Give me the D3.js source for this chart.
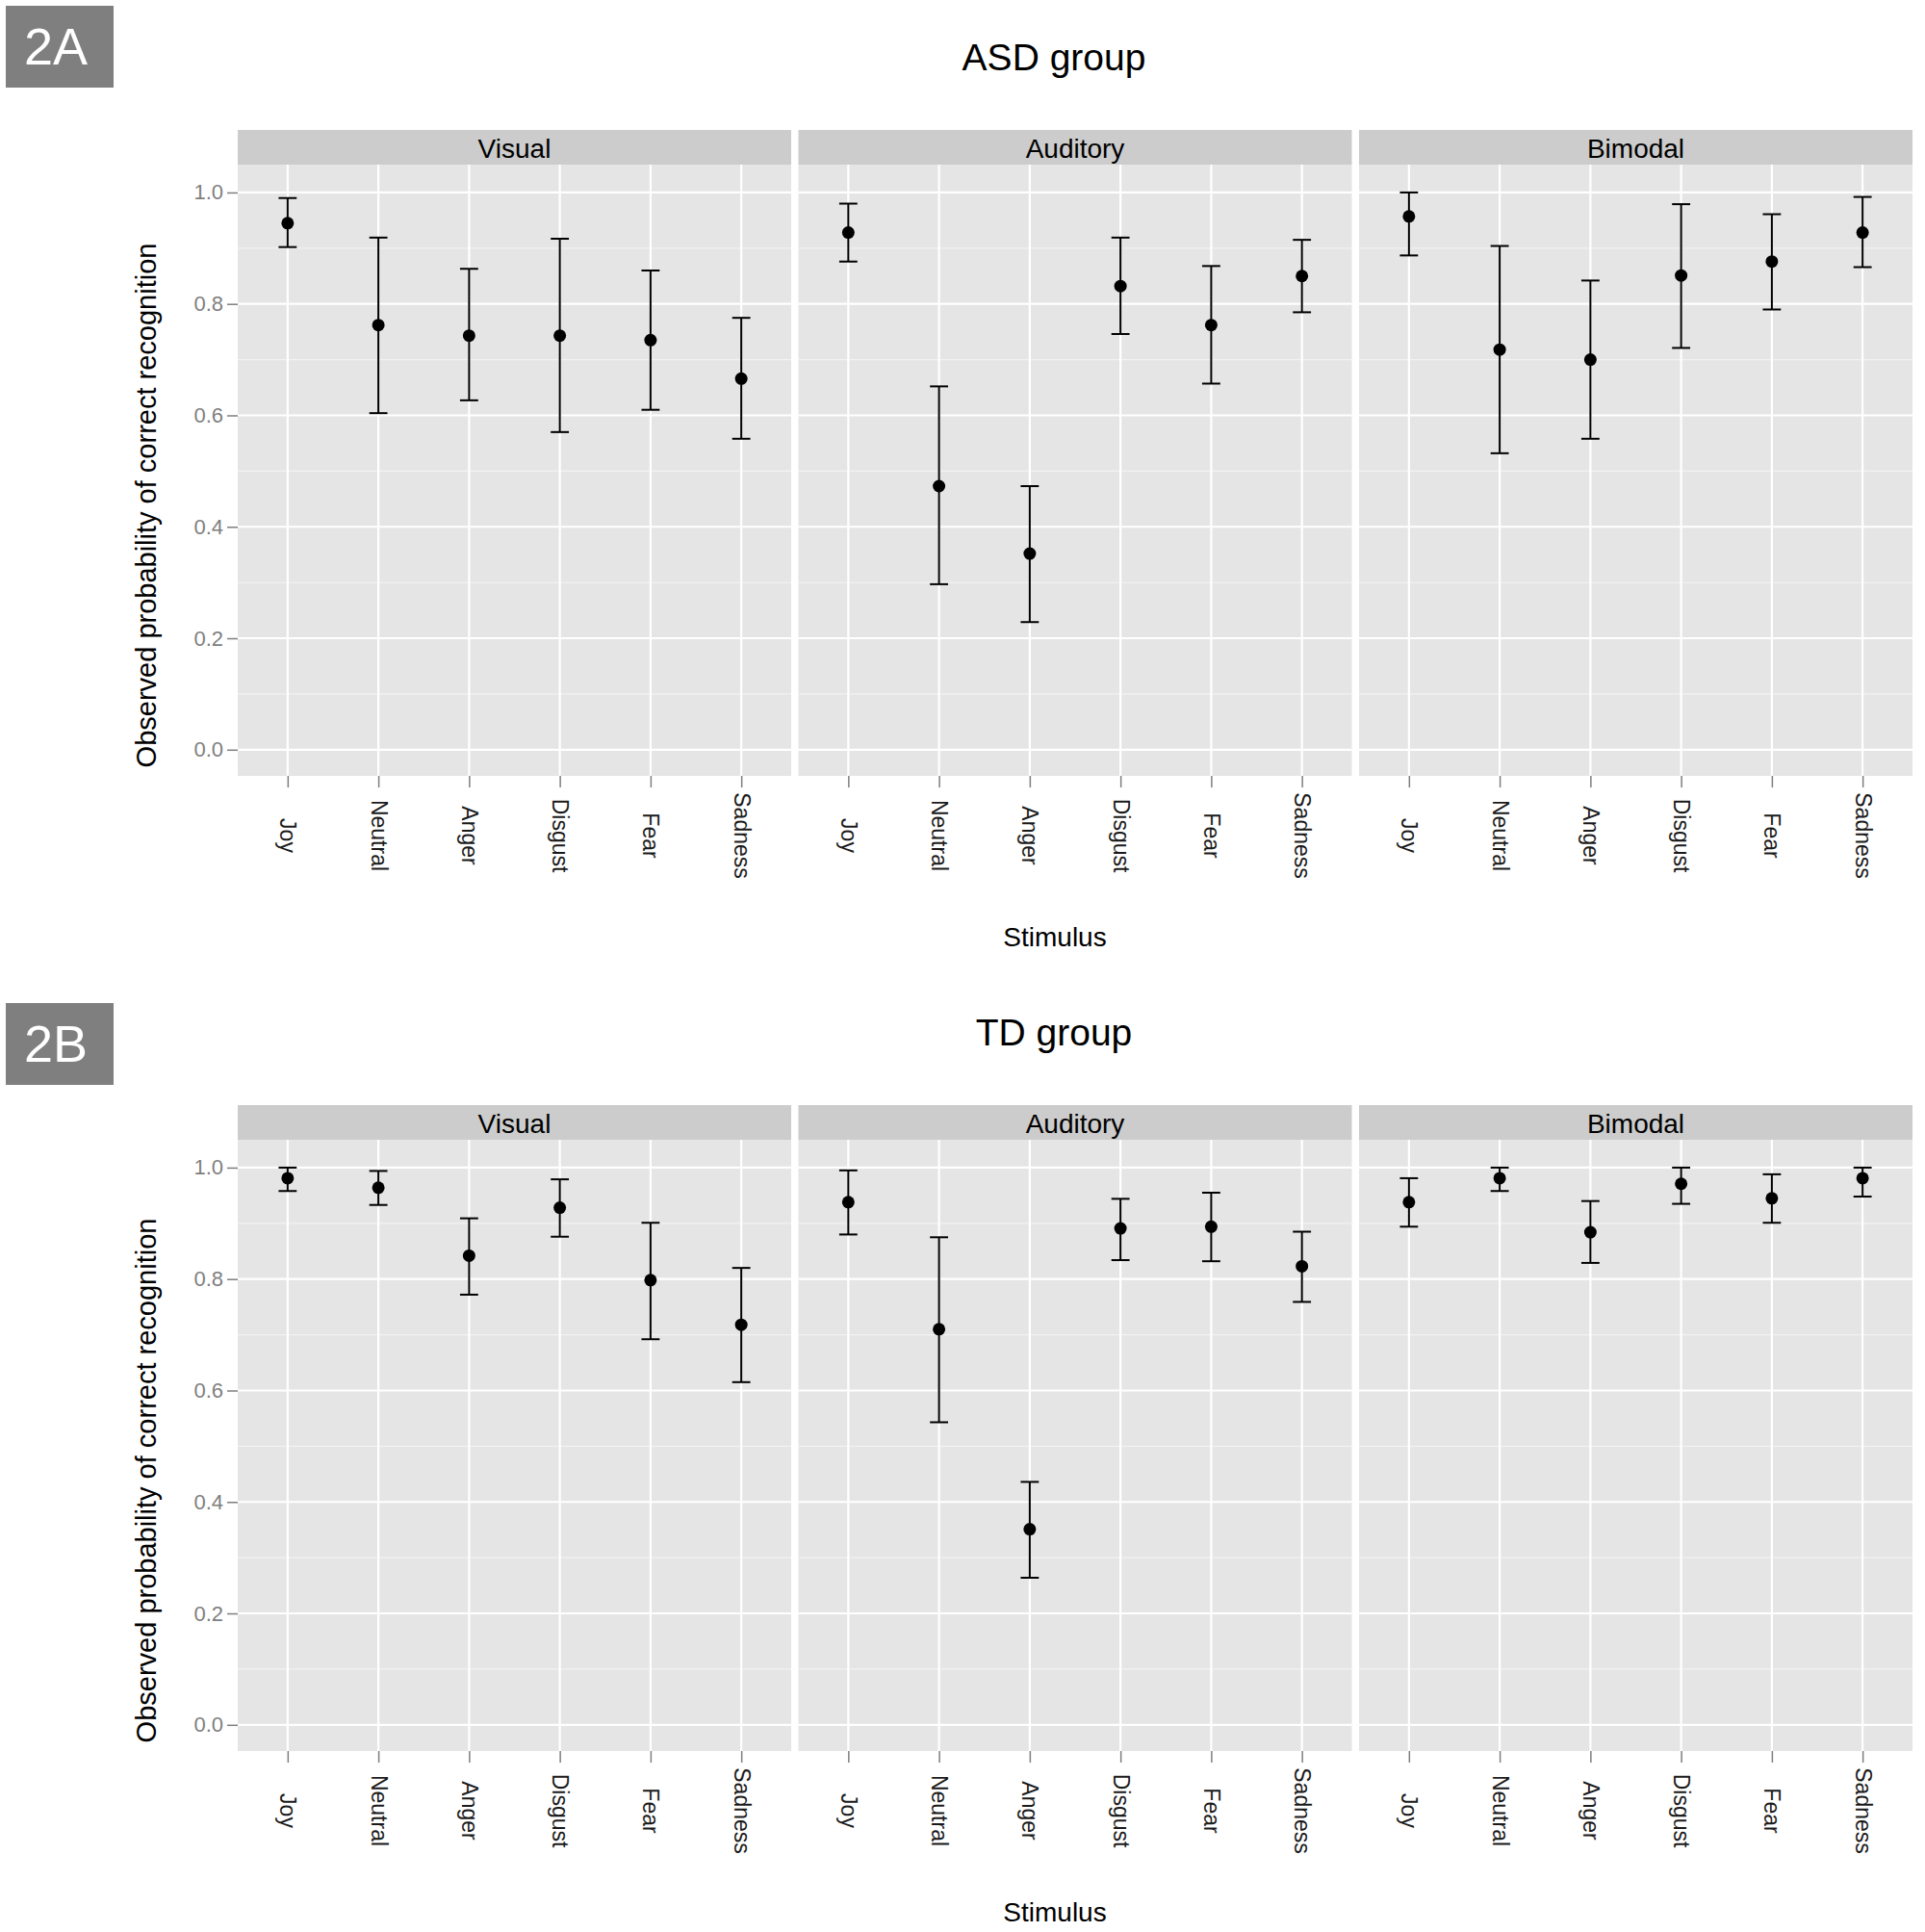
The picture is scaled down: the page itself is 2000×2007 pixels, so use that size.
<!DOCTYPE html>
<html>
<head>
  <meta charset="utf-8">
  <script src="https://d3js.org/d3.v7.min.js"></script>
  <style>
    body { margin: 0; background: #fff; }
    text { font-family: "Liberation Sans", Arial, sans-serif; }
  </style>
</head>
<body>
  <script type="text/javascript">
    var w = 2000;
    var h = 2007;

    var categories = ["Joy", "Neutral", "Anger", "Disgust", "Fear", "Sadness"];
    var modalities = ["Visual", "Auditory", "Bimodal"];
    var yTicks = [0.0, 0.2, 0.4, 0.6, 0.8, 1.0];
    var yMinor = [0.1, 0.3, 0.5, 0.7, 0.9];

    // ASD group: rows = Visual, Auditory, Bimodal
    var asdMean = [
      [0.945, 0.762, 0.743, 0.743, 0.735, 0.666],
      [0.928, 0.473, 0.352, 0.832, 0.762, 0.850],
      [0.957, 0.718, 0.700, 0.851, 0.876, 0.928]
    ];
    var asdLower = [
      [0.902, 0.604, 0.627, 0.570, 0.610, 0.558],
      [0.876, 0.297, 0.229, 0.746, 0.657, 0.785],
      [0.887, 0.532, 0.558, 0.721, 0.790, 0.866]
    ];
    var asdUpper = [
      [0.990, 0.919, 0.863, 0.917, 0.860, 0.775],
      [0.980, 0.652, 0.473, 0.919, 0.868, 0.915],
      [1.000, 0.904, 0.842, 0.979, 0.961, 0.992]
    ];

    // TD group
    var tdMean = [
      [0.981, 0.964, 0.842, 0.928, 0.798, 0.718],
      [0.938, 0.710, 0.351, 0.891, 0.894, 0.823],
      [0.938, 0.981, 0.884, 0.971, 0.945, 0.981]
    ];
    var tdLower = [
      [0.958, 0.933, 0.772, 0.876, 0.692, 0.615],
      [0.880, 0.543, 0.264, 0.834, 0.832, 0.759],
      [0.894, 0.958, 0.829, 0.935, 0.901, 0.948]
    ];
    var tdUpper = [
      [1.000, 0.994, 0.909, 0.979, 0.901, 0.820],
      [0.995, 0.875, 0.436, 0.944, 0.955, 0.885],
      [0.981, 1.000, 0.940, 1.000, 0.988, 1.000]
    ];

    var svg = d3.select("body")
      .append("svg")
      .attr("width", w)
      .attr("height", h);

    svg.append("rect").attr("width", w).attr("height", h).attr("fill", "#fff");

    var panelLeft = 247;
    var panelW = 575;
    var panelGap = 7.5;
    var stripTop = 135;
    var panelTop = 171;
    var panelBottom = 806;

    var yScale = d3.scaleLinear()
                   .domain([-0.047, 1.05])
                   .range([panelBottom, panelTop]);

    function drawGroup(offset, boxY, label, title, means, lows, highs) {
      var g = svg.append("g").attr("transform", "translate(0," + offset + ")");

      // panel tag
      g.append("rect")
        .attr("x", 6).attr("y", boxY)
        .attr("width", 112).attr("height", 85)
        .attr("fill", "#7f7f7f");
      g.append("text")
        .attr("x", 58).attr("y", boxY + 61)
        .attr("text-anchor", "middle")
        .attr("fill", "#fff")
        .style("font-family", "'Liberation Sans Narrow', 'Liberation Sans', sans-serif")
        .style("font-size", "54px")
        .text(label);

      g.append("text")
        .attr("x", 1095).attr("y", 73)
        .attr("text-anchor", "middle")
        .style("font-size", "39px")
        .text(title);

      modalities.forEach(function(m, mi) {
        var x0 = panelLeft + mi * (panelW + panelGap);
        var xScale = d3.scalePoint()
                       .domain(categories)
                       .range([x0, x0 + panelW])
                       .padding(0.55);
        var p = g.append("g");

        p.append("rect")
          .attr("x", x0).attr("y", stripTop)
          .attr("width", panelW).attr("height", panelTop - stripTop)
          .attr("fill", "#cccccc");
        p.append("text")
          .attr("x", x0 + panelW / 2).attr("y", 164)
          .attr("text-anchor", "middle")
          .style("font-size", "28px")
          .text(m);

        p.append("rect")
          .attr("x", x0).attr("y", panelTop)
          .attr("width", panelW).attr("height", panelBottom - panelTop)
          .attr("fill", "#e5e5e5");

        p.selectAll(".minor")
          .data(yMinor)
          .enter()
          .append("line")
          .attr("x1", x0).attr("x2", x0 + panelW)
          .attr("y1", function(d){ return yScale(d); })
          .attr("y2", function(d){ return yScale(d); })
          .attr("stroke", "#f2f2f2")
          .attr("stroke-width", 1.2);

        p.selectAll(".major")
          .data(yTicks)
          .enter()
          .append("line")
          .attr("x1", x0).attr("x2", x0 + panelW)
          .attr("y1", function(d){ return yScale(d); })
          .attr("y2", function(d){ return yScale(d); })
          .attr("stroke", "#fff")
          .attr("stroke-width", 2.2);

        p.selectAll(".vgrid")
          .data(categories)
          .enter()
          .append("line")
          .attr("x1", function(d){ return xScale(d); })
          .attr("x2", function(d){ return xScale(d); })
          .attr("y1", panelTop).attr("y2", panelBottom)
          .attr("stroke", "#fff")
          .attr("stroke-width", 2.2);

        var rows = categories.map(function(c, i) {
          return { cat: c, mean: means[mi][i], lo: lows[mi][i], hi: highs[mi][i] };
        });
        var cap = xScale.step() * 0.1;

        var eb = p.selectAll(".eb").data(rows).enter().append("g");
        eb.append("line")
          .attr("x1", function(d){ return xScale(d.cat); })
          .attr("x2", function(d){ return xScale(d.cat); })
          .attr("y1", function(d){ return yScale(d.lo); })
          .attr("y2", function(d){ return yScale(d.hi); })
          .attr("stroke", "#000").attr("stroke-width", 2);
        eb.append("line")
          .attr("x1", function(d){ return xScale(d.cat) - cap; })
          .attr("x2", function(d){ return xScale(d.cat) + cap; })
          .attr("y1", function(d){ return yScale(d.hi); })
          .attr("y2", function(d){ return yScale(d.hi); })
          .attr("stroke", "#000").attr("stroke-width", 2);
        eb.append("line")
          .attr("x1", function(d){ return xScale(d.cat) - cap; })
          .attr("x2", function(d){ return xScale(d.cat) + cap; })
          .attr("y1", function(d){ return yScale(d.lo); })
          .attr("y2", function(d){ return yScale(d.lo); })
          .attr("stroke", "#000").attr("stroke-width", 2);
        eb.append("circle")
          .attr("cx", function(d){ return xScale(d.cat); })
          .attr("cy", function(d){ return yScale(d.mean); })
          .attr("r", 6.5)
          .attr("fill", "#000");

        // x axis
        var xa = p.append("g")
          .attr("transform", "translate(0," + panelBottom + ")")
          .call(d3.axisBottom(xScale).tickSize(12).tickSizeOuter(0));
        xa.select(".domain").remove();
        xa.selectAll(".tick line").attr("stroke", "#7f7f7f").attr("stroke-width", 1.5);
        xa.selectAll(".tick text")
          .attr("x", 0).attr("y", 0)
          .attr("dy", "0.35em")
          .attr("transform", "translate(0,62) rotate(90)")
          .attr("text-anchor", "middle")
          .attr("fill", "#1a1a1a")
          .style("font-family", "'Liberation Sans', Arial, sans-serif")
          .style("font-size", "23px");

        if (mi === 0) {
          var ya = p.append("g")
            .attr("transform", "translate(" + x0 + ",0)")
            .call(d3.axisLeft(yScale).tickValues(yTicks).tickFormat(d3.format(".1f")).tickSize(11).tickPadding(4));
          ya.select(".domain").remove();
          ya.selectAll(".tick line").attr("stroke", "#7f7f7f").attr("stroke-width", 1.5);
          ya.selectAll(".tick text")
            .attr("fill", "#7f7f7f")
            .style("font-family", "'Liberation Sans', Arial, sans-serif")
            .style("font-size", "22px");
        }
      });

      g.append("text")
        .attr("transform", "translate(162,525) rotate(-90)")
        .attr("text-anchor", "middle")
        .style("font-size", "29px")
        .text("Observed probability of correct recognition");

      g.append("text")
        .attr("x", 1096).attr("y", 983)
        .attr("text-anchor", "middle")
        .style("font-size", "28px")
        .text("Stimulus");
    }

    drawGroup(0, 6, "2A", "ASD group", asdMean, asdLower, asdUpper);
    drawGroup(1013, 29, "2B", "TD group", tdMean, tdLower, tdUpper);
  </script>
</body>
</html>
